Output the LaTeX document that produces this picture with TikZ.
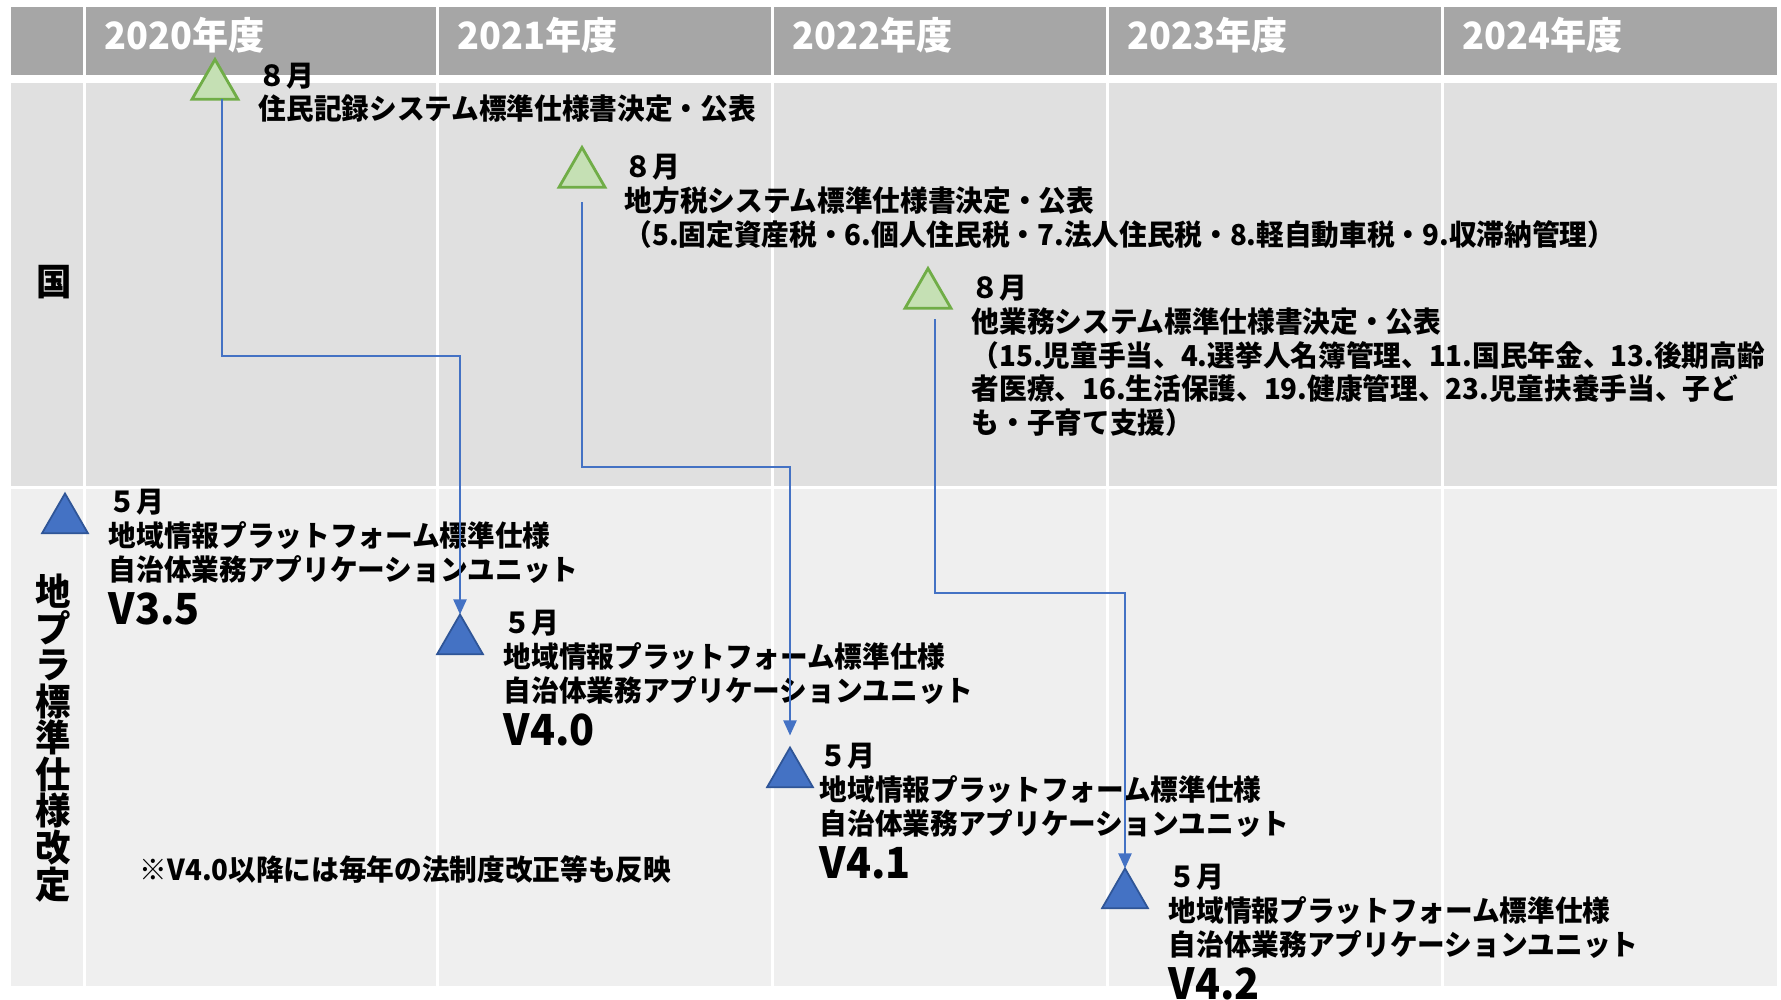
\documentclass[tikz,border=0pt]{standalone}
\usepackage{fontspec}
\setmainfont{Noto Sans CJK JP}[FakeStretch=0.96]
\usetikzlibrary{shapes.geometric,arrows.meta,positioning}
\definecolor{hdgray}{HTML}{A6A6A6}
\definecolor{kunibg}{HTML}{E0E0E0}
\definecolor{chibg}{HTML}{EFEFEF}
\definecolor{kgreen}{HTML}{70AD47}
\definecolor{kgreenfill}{HTML}{C5E0B4}
\definecolor{cblue}{HTML}{4472C4}
\definecolor{cblueline}{HTML}{2F5597}
\tikzset{
  hd/.style={anchor=west, inner sep=0, text=white, font=\fontsize{10.7}{12}\selectfont\bfseries},
  rowlbl/.style={inner sep=0, align=center, font=\fontsize{10.5}{10.4}\selectfont\bfseries},
  kunitri/.style={regular polygon, regular polygon sides=3, minimum size=0.53cm, inner sep=0, outer sep=0, draw=kgreen, fill=kgreenfill, line width=0.8pt},
  chitri/.style={regular polygon, regular polygon sides=3, minimum size=0.53cm, inner sep=0, outer sep=0, draw=cblueline, fill=cblue, line width=0.5pt},
  lbl/.style={anchor=north west, align=left, inner sep=0, font=\fontsize{8.2}{9.6}\selectfont\bfseries},
  ver/.style={anchor=north west, inner sep=0, font=\fontsize{12.2}{14}\selectfont\bfseries},
  link/.style={draw=cblue, line width=0.6pt, -{Triangle[length=1.5mm,width=1.3mm]}}
}
\begin{document}
\begin{tikzpicture}
\useasboundingbox (0,0) rectangle (17.81,-10);
% table
\fill[hdgray] (0.11,-0.07) rectangle (17.77,-0.75);
\fill[kunibg] (0.11,-0.83) rectangle (17.77,-4.86);
\fill[chibg] (0.11,-4.89) rectangle (17.77,-9.86);
\draw[white, line width=0.03cm] (0.84,-0.07) -- (0.84,-9.86);
\draw[white, line width=0.03cm] (4.37,-0.07) -- (4.37,-9.86);
\draw[white, line width=0.03cm] (7.72,-0.07) -- (7.72,-9.86);
\draw[white, line width=0.03cm] (11.07,-0.07) -- (11.07,-9.86);
\draw[white, line width=0.03cm] (14.42,-0.07) -- (14.42,-9.86);
\node[hd] (y2020) at (1.04,-0.35) {2020年度};
\node[hd] (y2021) at (4.57,-0.35) {2021年度};
\node[hd] (y2022) at (7.92,-0.35) {2022年度};
\node[hd] (y2023) at (11.27,-0.35) {2023年度};
\node[hd] (y2024) at (14.62,-0.35) {2024年度};
\node[rowlbl] (kuni) at (0.54,-2.82) {国};
\node[rowlbl] (chipura) at (0.53,-7.38) {地\\プ\\ラ\\標\\準\\仕\\様\\改\\定};

% 国
\node[kunitri] (g1) at (2.15,-0.86) {};
\node[kunitri] (g2) at (5.82,-1.74) {};
\node[kunitri] (g3) at (9.28,-2.95) {};
\node[lbl] (g1t) at ([xshift=0.43cm,yshift=-0.025cm]g1.north) {８月\\住民記録システム標準仕様書決定・公表};
\node[lbl] (g2t) at ([xshift=0.42cm,yshift=-0.06cm]g2.north) {８月\\地方税システム標準仕様書決定・公表\\（5.固定資産税・6.個人住民税・7.法人住民税・8.軽自動車税・9.収滞納管理）};
\node[lbl] (g3t) at ([xshift=0.43cm,yshift=-0.06cm]g3.north) {８月\\他業務システム標準仕様書決定・公表\\（15.児童手当、4.選挙人名簿管理、11.国民年金、13.後期高齢\\者医療、16.生活保護、19.健康管理、23.児童扶養手当、子ど\\も・子育て支援）};

% 地プラ
\node[chitri] (b1) at (0.65,-5.20) {};
\node[chitri] (b2) at (4.60,-6.41) {};
\node[chitri] (b3) at (7.90,-7.74) {};
\node[chitri] (b4) at (11.25,-8.95) {};
\node[lbl] (b1t) at ([xshift=0.43cm,yshift=0.05cm]b1.north) {５月\\地域情報プラットフォーム標準仕様\\自治体業務アプリケーションユニット};
\node[lbl] (b2t) at ([xshift=0.43cm,yshift=0.05cm]b2.north) {５月\\地域情報プラットフォーム標準仕様\\自治体業務アプリケーションユニット};
\node[lbl] (b3t) at ([xshift=0.29cm,yshift=0.05cm]b3.north) {５月\\地域情報プラットフォーム標準仕様\\自治体業務アプリケーションユニット};
\node[lbl] (b4t) at ([xshift=0.43cm,yshift=0.05cm]b4.north) {５月\\地域情報プラットフォーム標準仕様\\自治体業務アプリケーションユニット};
\node[ver] (v35) at ([yshift=-0.08cm]b1t.south west) {V3.5};
\node[ver] (v40) at ([yshift=-0.08cm]b2t.south west) {V4.0};
\node[ver] (v41) at ([yshift=-0.08cm]b3t.south west) {V4.1};
\node[ver] (v42) at ([yshift=-0.08cm]b4t.south west) {V4.2};
\node[lbl, anchor=west] (note) at (1.39,-8.69) {※V4.0以降には毎年の法制度改正等も反映};

% links
\draw[link] ([xshift=0.07cm]g1.south) -- ++(0,-2.57) -| (b2.north);
\draw[link, shorten <=0.15cm, shorten >=0.12cm] (g2.south) -- ++(0,-2.80) -| (b3.north);
\draw[link, shorten <=0.11cm] ([xshift=0.07cm]g3.south) -- ++(0,-2.85) -| (b4.north);
\end{tikzpicture}
\end{document}
